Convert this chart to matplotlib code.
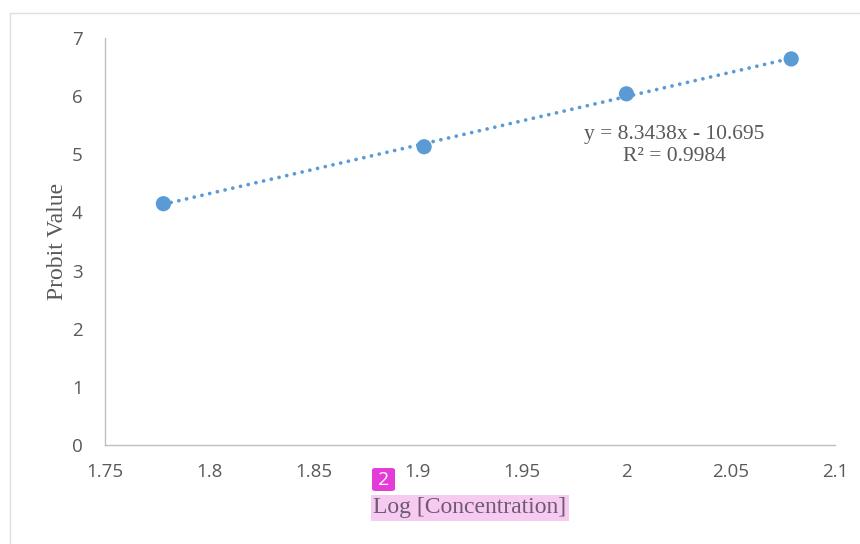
import matplotlib
matplotlib.use('Agg')
import matplotlib.pyplot as plt
from matplotlib.patches import FancyBboxPatch
from matplotlib.lines import Line2D
import numpy as np

# data
log_conc = [1.778, 1.903, 2.000, 2.079]
probit = [4.15, 5.13, 6.04, 6.64]
trend_slope = 8.3438
trend_intercept = -10.695
x_ticks = [1.75, 1.8, 1.85, 1.9, 1.95, 2.0, 2.05, 2.1]
x_tick_labels = ['1.75', '1.8', '1.85', '1.9', '1.95', '2', '2.05', '2.1']
y_ticks = [0, 1, 2, 3, 4, 5, 6, 7]

BLUE = '#5B9BD5'
GREY_TXT = '#595959'
SPINE = '#BFBFBF'
SERIF = 'Liberation Serif'
SANS = 'Open Sans'

fig = plt.figure(figsize=(8.6, 5.44), dpi=100)
ax = fig.add_axes([105 / 860, 99 / 544, 730 / 860, 407 / 544])

# chart area border (left + top only visible)
fig.add_artist(Line2D([10 / 860, 10 / 860], [0, 1 - 13 / 544], color='#E0E0E0', lw=1))
fig.add_artist(Line2D([10 / 860, 1], [1 - 13 / 544, 1 - 13 / 544], color='#E0E0E0', lw=1))

# linear trendline, round dots
xt = np.array([min(log_conc), max(log_conc)])
ax.plot(xt, trend_slope * xt + trend_intercept, linestyle=(0, (0.01, 2.1)),
        color=BLUE, lw=2.7, dash_capstyle='round', zorder=2)
ax.scatter(log_conc, probit, s=120, color=BLUE, zorder=3, edgecolors='none')

ax.set_xlim(1.75, 2.1)
ax.set_ylim(0, 7)
ax.set_xticks(x_ticks)
ax.set_xticklabels(x_tick_labels)
ax.set_yticks(y_ticks)
for lbl in ax.get_xticklabels() + ax.get_yticklabels():
    lbl.set_fontfamily(SANS)
    lbl.set_fontsize(13.5)
    lbl.set_color(GREY_TXT)
ax.tick_params(axis='both', length=0)
ax.tick_params(axis='x', pad=13)
ax.tick_params(axis='y', pad=16)

for side in ['top', 'right']:
    ax.spines[side].set_visible(False)
for side in ['left', 'bottom']:
    ax.spines[side].set_color(SPINE)
    ax.spines[side].set_linewidth(1)

ax.set_ylabel('Probit Value', fontfamily=SERIF, fontsize=17, color=GREY_TXT, labelpad=3)

# x label with highlight box (annotation overlay in the reference)
fig.text(470 / 860, 1 - 508 / 544, 'Log [Concentration]', ha='center', va='center',
         fontfamily=SERIF, fontsize=17, color='#6E5A72',
         bbox=dict(boxstyle='square,pad=0.1', facecolor='#F7CBF1', edgecolor='none'))
badge = FancyBboxPatch((372 / 860, 1 - 491 / 544), 23 / 860, 23 / 544,
                       boxstyle='round,pad=0,rounding_size=0.004',
                       transform=fig.transFigure, facecolor='#E53BD9', edgecolor='none')
fig.add_artist(badge)
fig.text(383.5 / 860, 1 - 480 / 544, '2', ha='center', va='center', fontfamily=SANS,
         fontsize=14, color='white')

# trendline equation
ax.text(2.023, 5.15, 'y = 8.3438x - 10.695\nR² = 0.9984', ha='center', va='center',
        fontfamily=SERIF, fontsize=15.5, color=GREY_TXT, linespacing=1.18)

fig.savefig('out.png', dpi=100, facecolor='white')
